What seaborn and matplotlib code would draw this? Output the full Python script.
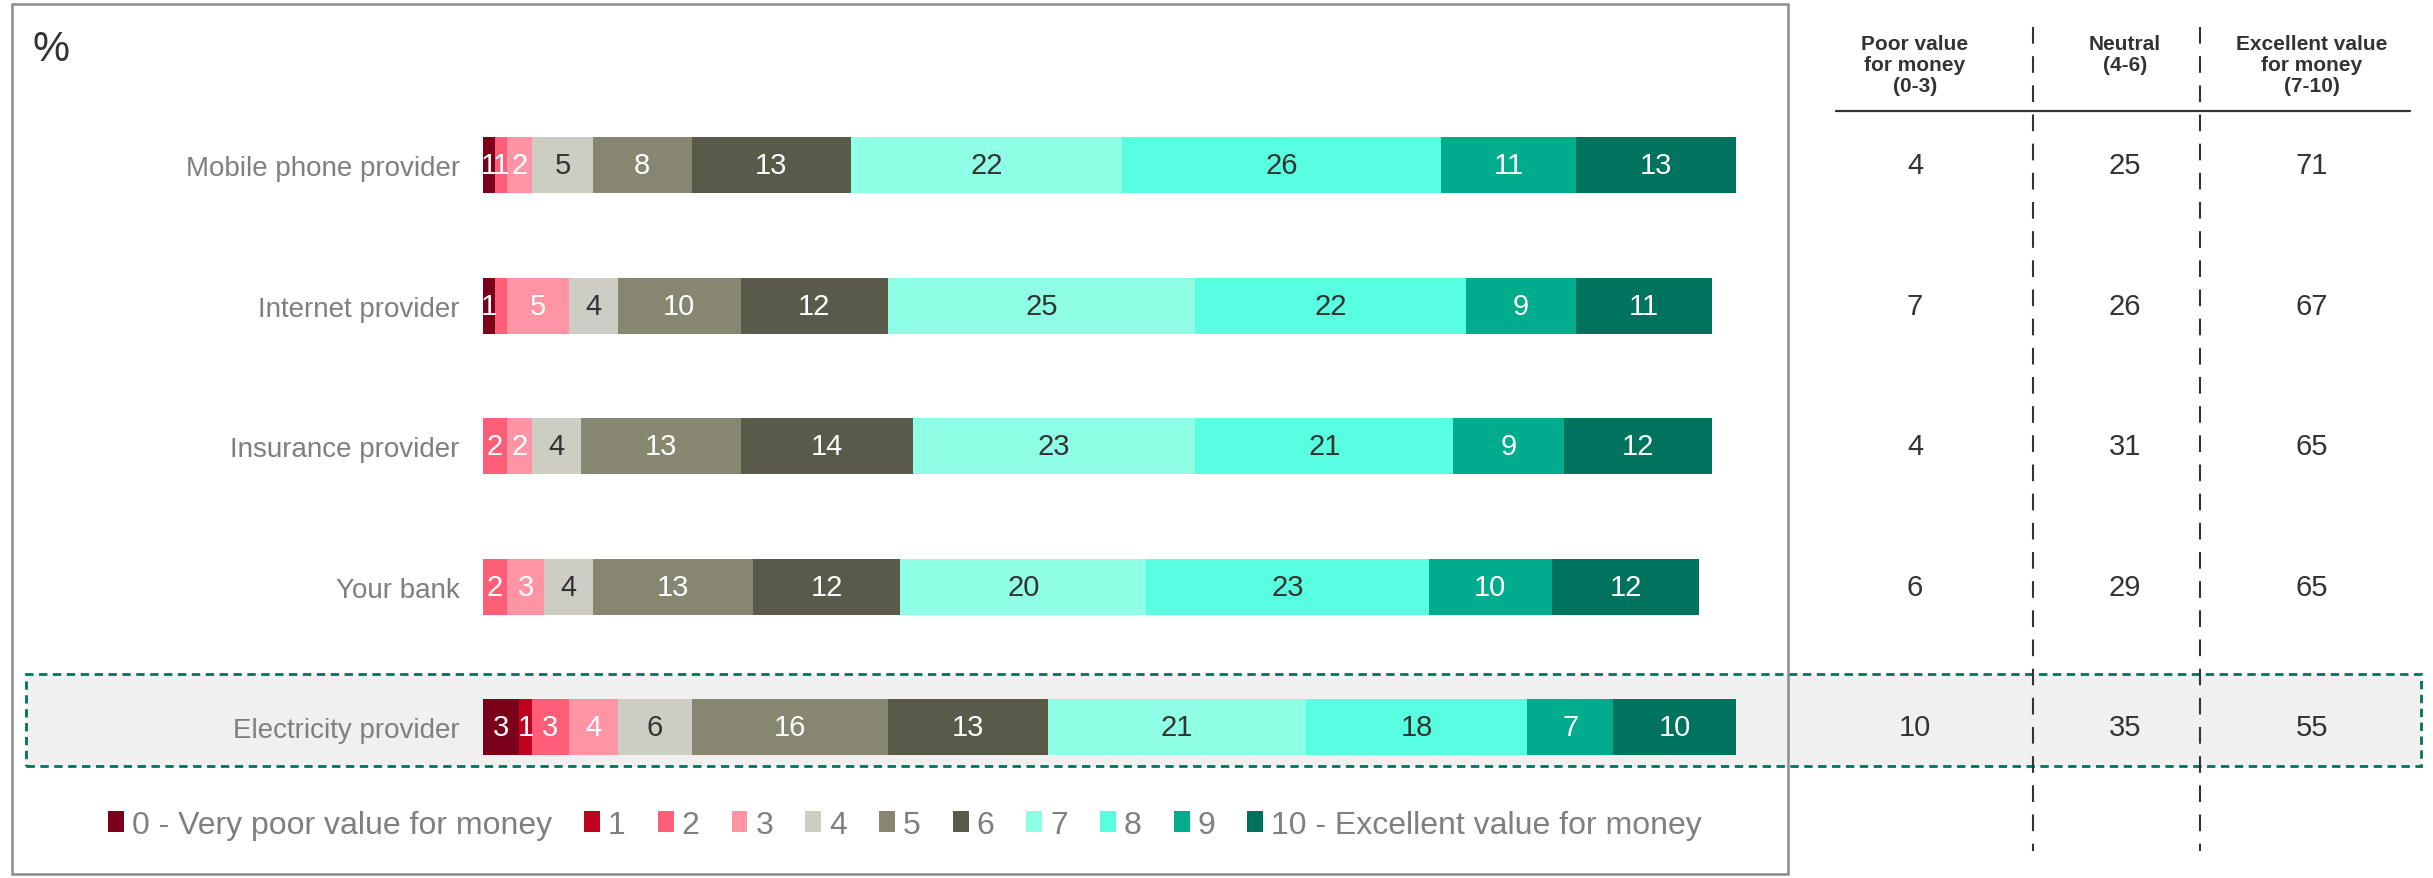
import matplotlib
matplotlib.use("Agg")
import matplotlib.pyplot as plt
from matplotlib.patches import Rectangle, Patch
from matplotlib.lines import Line2D
import numpy as np
import pandas as pd
import seaborn as sns

# ---- data -------------------------------------------------------------
categories = ["Mobile phone provider", "Internet provider", "Insurance provider",
              "Your bank", "Electricity provider"]
score_labels = ["0 - Very poor value for money", "1", "2", "3", "4", "5", "6",
                "7", "8", "9", "10 - Excellent value for money"]

# share of respondents (%) giving each score 0..10
mobile = [1, 0, 1, 2, 5, 8, 13, 22, 26, 11, 13]
internet = [1, 0, 1, 5, 4, 10, 12, 25, 22, 9, 11]
insurance = [0, 0, 2, 2, 4, 13, 14, 23, 21, 9, 12]
bank = [0, 0, 2, 3, 4, 13, 12, 20, 23, 10, 12]
electricity = [3, 1, 3, 4, 6, 16, 13, 21, 18, 7, 10]

# grouped summary
poor = [4, 7, 4, 6, 10]
neutral = [25, 26, 31, 29, 35]
excellent = [71, 67, 65, 65, 55]
summary_headers = ["Poor value\nfor money\n(0-3)", "Neutral\n(4-6)",
                   "Excellent value\nfor money\n(7-10)"]

# segments shown without a value label (row index, score)
unlabeled_segments = [(1, 2)]
highlight_row = "Electricity provider"

palette = ["#7B0019", "#C0001F", "#FF5E78", "#FF94A4", "#CDCDC4", "#878670",
           "#5A5A4B", "#8FFFE5", "#57FFE0", "#00AC8C", "#00735E"]
dark_text_scores = {4, 7, 8}

# ---- figure setup -----------------------------------------------------
W, H = 2433, 879
sns.set_theme(style="white")
plt.rcParams["font.family"] = ["Liberation Sans", "DejaVu Sans"]

fig = plt.figure(figsize=(W / 100, H / 100), dpi=100)
fig.patch.set_facecolor("white")


def fx(x):
    return x / W


def fy(y):
    return 1 - y / H


# bar panel: x in percent, one row per category
ax_left, ax_right = 482.6, 1711.5
ax_top, ax_bottom = 96.0, 798.3
ax = fig.add_axes([fx(ax_left), fy(ax_bottom), fx(ax_right - ax_left),
                   (ax_bottom - ax_top) / H])
ax.set_facecolor("none")

shares = pd.DataFrame([mobile, internet, insurance, bank, electricity],
                      index=categories, columns=range(11))
cum = shares.cumsum(axis=1)

# stacked bars: draw the cumulative totals from the top score downwards
for score in range(10, -1, -1):
    sns.barplot(x=cum[score].values, y=categories, orient="h",
                color=palette[score], saturation=1, width=0.4,
                linewidth=0, ax=ax)
for p in ax.patches:
    p.set_clip_on(False)

for i, cat in enumerate(categories):
    for score in range(11):
        v = shares.loc[cat, score]
        if v <= 0 or (i, score) in unlabeled_segments:
            continue
        center = cum.loc[cat, score] - v / 2
        ax.text(center, i, f"{v}", ha="center", va="center", fontsize=21,
                color="#333333" if score in dark_text_scores else "white")

ax.set_xlim(0, 100)
ax.set_ylim(4.5, -0.5)
ax.set_xlabel("")
ax.set_ylabel("")
ax.xaxis.set_visible(False)
for s in ax.spines.values():
    s.set_visible(False)
ax.tick_params(axis="y", length=0, pad=16.5, labelsize=20, labelcolor="#7F7F7F")

# summary table panel sharing the row positions
tab_left = 1790
ax_tab = fig.add_axes([fx(tab_left), fy(ax_bottom), fx(W - tab_left),
                       (ax_bottom - ax_top) / H])
ax_tab.set_facecolor("none")
ax_tab.set_ylim(ax.get_ylim())
ax_tab.set_xlim(0, 1)
ax_tab.axis("off")

col_px = (1915, 2125, 2312)
col_centers = [(c - tab_left) / (W - tab_left) for c in col_px]
trans = ax_tab.get_yaxis_transform()
for i in range(len(categories)):
    for xc, vals in zip(col_centers, (poor, neutral, excellent)):
        ax_tab.text(xc, i, f"{vals[i]}", transform=trans, ha="center",
                    va="center", fontsize=21, color="#333333")

# column headers, one text per line for even spacing
head_first_line, head_line_step = 44, 21.5
for xc, head in zip(col_px, summary_headers):
    for k, line in enumerate(head.split("\n")):
        fig.text(fx(xc), fy(head_first_line + k * head_line_step), line,
                 ha="center", va="center", fontsize=15, fontweight="bold",
                 color="#333333")

# header rule and dashed column separators
fig.add_artist(Line2D([fx(1836), fx(2410)], [fy(112), fy(112)], color="#333333",
                      lw=1.6, transform=fig.transFigure, zorder=3))
for xs in (2033, 2200):
    fig.add_artist(Line2D([fx(xs), fx(xs)], [fy(28), fy(852)], color="#333333",
                          lw=1.5, linestyle=(0, (8, 6)),
                          transform=fig.transFigure, zorder=3))

# highlighted row band
fig.add_artist(Rectangle((fx(26), fy(767)), fx(2421 - 26), (767 - 675) / H,
                         transform=fig.transFigure, facecolor="#F0F0F0",
                         edgecolor="#00735E", lw=2, linestyle=(0, (3, 2)),
                         zorder=-1))

# frame around the bar panel
fig.add_artist(Rectangle((fx(12), fy(875)), fx(1788 - 12), (875 - 5) / H,
                         transform=fig.transFigure, facecolor="none",
                         edgecolor="#8C8C8C", lw=1.8, zorder=2))

fig.text(fx(33), fy(30), "%", ha="left", va="top", fontsize=30, color="#333333")

handles = [Patch(facecolor=c, edgecolor="none") for c in palette]
fig.legend(handles, score_labels, loc="center", bbox_to_anchor=(fx(905), fy(826)),
           ncol=11, frameon=False, fontsize=23, labelcolor="#7F7F7F",
           handlelength=0.5, handleheight=0.65, handletextpad=0.25,
           columnspacing=1.0, borderaxespad=0)

fig.savefig("out.png", dpi=100, facecolor="white")
